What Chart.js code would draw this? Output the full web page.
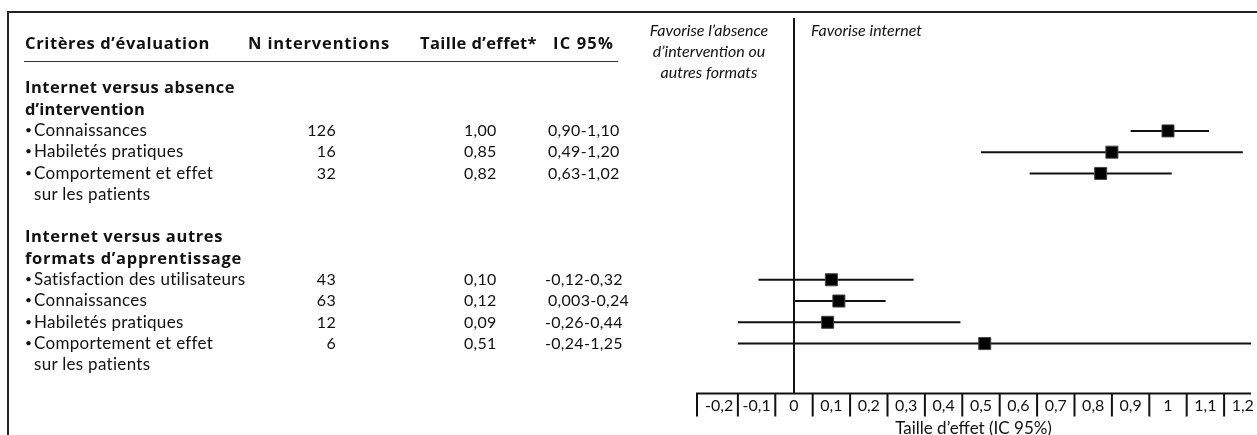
<!DOCTYPE html>
<html lang="fr">
<head>
<meta charset="utf-8">
<script src="https://cdn.jsdelivr.net/npm/chart.js@4.4.1/dist/chart.umd.min.js"></script>
<style>
html,body{margin:0;padding:0;background:#fff;}
body{width:1257px;height:435px;position:relative;overflow:hidden;font-family:Lato,"Open Sans",sans-serif;color:#111;}
#frame{position:absolute;left:7px;top:11px;width:1270px;height:440px;border-top:2px solid #222;border-left:2px solid #222;box-sizing:border-box;}
#chart{position:absolute;left:0;top:0;}
.t{position:absolute;white-space:nowrap;line-height:21.3px;height:21.3px;}
.b{font-family:"Open Sans",Lato,sans-serif;font-weight:700;font-size:16.5px;}
.r{font-size:17px;letter-spacing:0.3px;}
.bl{font-size:12px;}
.n{font-size:16px;letter-spacing:0.3px;}
.it{font-style:italic;font-size:16px;position:absolute;white-space:nowrap;line-height:21px;}
#rule{position:absolute;left:24px;top:61px;width:594px;border-top:1.5px solid #333;}
</style>
</head>
<body>
<div id="frame"></div>
<canvas id="chart" width="1257" height="435"></canvas>
<div id="rule"></div>
<div id="table"></div>
<div id="sideLabels"></div>
<script>
// ---- data ----
const headers = ["Critères d’évaluation", "N interventions", "Taille d’effet*", "IC 95%"];
const groups = ["Internet versus absence\nd’intervention", "Internet versus autres\nformats d’apprentissage"];
const groupSizes = [3, 4];
const criteria = ["Connaissances", "Habiletés pratiques", "Comportement et effet\nsur les patients",
                  "Satisfaction des utilisateurs", "Connaissances", "Habiletés pratiques", "Comportement et effet\nsur les patients"];
const nInterventions = [126, 16, 32, 43, 63, 12, 6];
const effectSize = [1.00, 0.85, 0.82, 0.10, 0.12, 0.09, 0.51];
const ciText = ["0,90-1,10", "0,49-1,20", "0,63-1,02", "-0,12-0,32", "0,003-0,24", "-0,26-0,44", "-0,24-1,25"];
// confidence interval ends as drawn in the figure
const plotLow  = [0.90, 0.50, 0.63, -0.095, 0.003, -0.15, -0.15];
const plotHigh = [1.11, 1.20, 1.01, 0.32, 0.245, 0.445, 1.25];
const tickValues = [-0.2, -0.1, 0, 0.1, 0.2, 0.3, 0.4, 0.5, 0.6, 0.7, 0.8, 0.9, 1, 1.1, 1.2];
const leftLabel = ["Favorise l’absence", "d’intervention ou", "autres formats"];
const rightLabel = "Favorise internet";
const axisTitle = "Taille d’effet (IC 95%)";

// ---- layout (not data) ----
const LINE_H = 21.3, LINE0 = 87;
const headerX = [25, 248, 420, 553];
const headerW = [185, 142, 117, 61];
const groupW = [[210, 120], [198, 217]];

const rowLine = [];
const groupLine = [];
{
  let line = 0, k = 0;
  groupSizes.forEach((n, g) => {
    groupLine.push(line);
    line += groups[g].split("\n").length;
    for (let j = 0; j < n; j++, k++) {
      rowLine.push(line);
      line += criteria[k].split("\n").length;
    }
    line += 1;
  });
}
const fmt = v => String(v).replace(".", ",");

// ---- HTML table ----
const table = document.getElementById("table");
function addText(txt, x, y, cls, align) {
  const d = document.createElement("div");
  d.className = "t " + cls;
  d.textContent = txt;
  d.style.top = (y - LINE_H / 2) + "px";
  if (align === "right") { d.style.right = (1257 - x) + "px"; }
  else d.style.left = x + "px";
  table.appendChild(d);
  return d;
}
function fit(el, w) {
  const n = el.textContent.length;
  const cur = el.getBoundingClientRect().width;
  el.style.letterSpacing = ((w - cur) / n) + "px";
}
headers.forEach((h, i) => fit(addText(h, headerX[i], 43, "b"), headerW[i]));
groups.forEach((g, gi) => {
  g.split("\n").forEach((ln, j) => fit(addText(ln, 25, LINE0 + (groupLine[gi] + j) * LINE_H, "b"), groupW[gi][j]));
});
criteria.forEach((c, i) => {
  const y = LINE0 + rowLine[i] * LINE_H;
  c.split("\n").forEach((ln, j) => {
    const yy = y + j * LINE_H;
    if (j === 0) addText("•", 25, yy, "bl");
    addText(ln, 34, yy, "r");
  });
  addText(String(nInterventions[i]), 336, y, "n", "right");
  addText(effectSize[i].toFixed(2).replace(".", ","), 464, y, "n");
  addText(ciText[i], ciText[i].startsWith("-") ? 545 : 548, y, "n");
});

// side labels
const side = document.getElementById("sideLabels");
leftLabel.forEach((t, i) => {
  const d = document.createElement("div");
  d.className = "it";
  d.textContent = t;
  d.style.left = "636px"; d.style.width = "146px"; d.style.textAlign = "center";
  d.style.top = (29 + i * 21 - 10.5) + "px";
  side.appendChild(d);
});
{
  const d = document.createElement("div");
  d.className = "it"; d.textContent = rightLabel;
  d.style.left = "811px"; d.style.top = (29 - 10.5) + "px";
  side.appendChild(d);
}

// ---- chart ----
const cellPlugin = {
  id: "cells",
  afterDraw(chart) {
    const { ctx, chartArea: a, scales: { x } } = chart;
    ctx.save();
    ctx.strokeStyle = "#111";
    ctx.lineWidth = 2;
    ctx.beginPath();
    ctx.moveTo(a.left, a.bottom);
    ctx.lineTo(a.right, a.bottom);
    const edges = tickValues.map(v => v - 0.05);
    edges.forEach((e, i) => {
      const px = i === 0 ? a.left + 1 : x.getPixelForValue(e);
      if (px <= a.right) { ctx.moveTo(px, a.bottom); ctx.lineTo(px, a.bottom + 23); }
    });
    ctx.stroke();
    ctx.restore();
  }
};

const markerSet = {
  label: "Taille d'effet",
  data: effectSize.map((v, i) => ({ x: v, y: rowLine[i] })),
  pointStyle: "rect",
  pointRadius: 8.5,
  pointHoverRadius: 8.5,
  backgroundColor: "#000",
  borderColor: "#444",
  borderWidth: 1,
  showLine: false
};
const ciSets = plotLow.map((lo, i) => ({
  label: "IC " + i,
  data: [{ x: lo, y: rowLine[i] }, { x: plotHigh[i], y: rowLine[i] }],
  showLine: true,
  borderColor: "#111",
  borderWidth: 2,
  pointRadius: 0,
  pointHoverRadius: 0
}));

const Y_OFF = 0.07;
new Chart(document.getElementById("chart"), {
  type: "scatter",
  data: { datasets: [markerSet, ...ciSets] },
  options: {
    responsive: false,
    animation: false,
    events: [],
    layout: { padding: { left: 696, right: 0, top: 18, bottom: 0 }, autoPadding: false },
    plugins: { legend: { display: false }, tooltip: { enabled: false } },
    scales: {
      x: {
        type: "linear",
        min: -0.262, max: 1.222,
        afterBuildTicks: s => { s.ticks = tickValues.map(v => ({ value: v })); },
        ticks: {
          callback: v => fmt(v),
          color: "#111",
          font: { family: "Lato", size: 16 },
          padding: 3.1,
          autoSkip: false, maxRotation: 0, minRotation: 0
        },
        grid: {
          drawOnChartArea: true, drawTicks: false,
          color: c => (c.tick && c.tick.value === 0) ? "#111" : "rgba(0,0,0,0)",
          lineWidth: 2
        },
        border: { display: false },
        title: { display: true, text: axisTitle, color: "#111",
                 font: { family: "Lato", size: 17, lineHeight: 0.8 }, padding: { top: 2.6, bottom: 0 } }
      },
      y: {
        type: "linear", reverse: true, display: false,
        min: (18 - LINE0) / LINE_H - Y_OFF, max: (394 - LINE0) / LINE_H - Y_OFF
      }
    }
  },
  plugins: [cellPlugin]
});
</script>
</body>
</html>
